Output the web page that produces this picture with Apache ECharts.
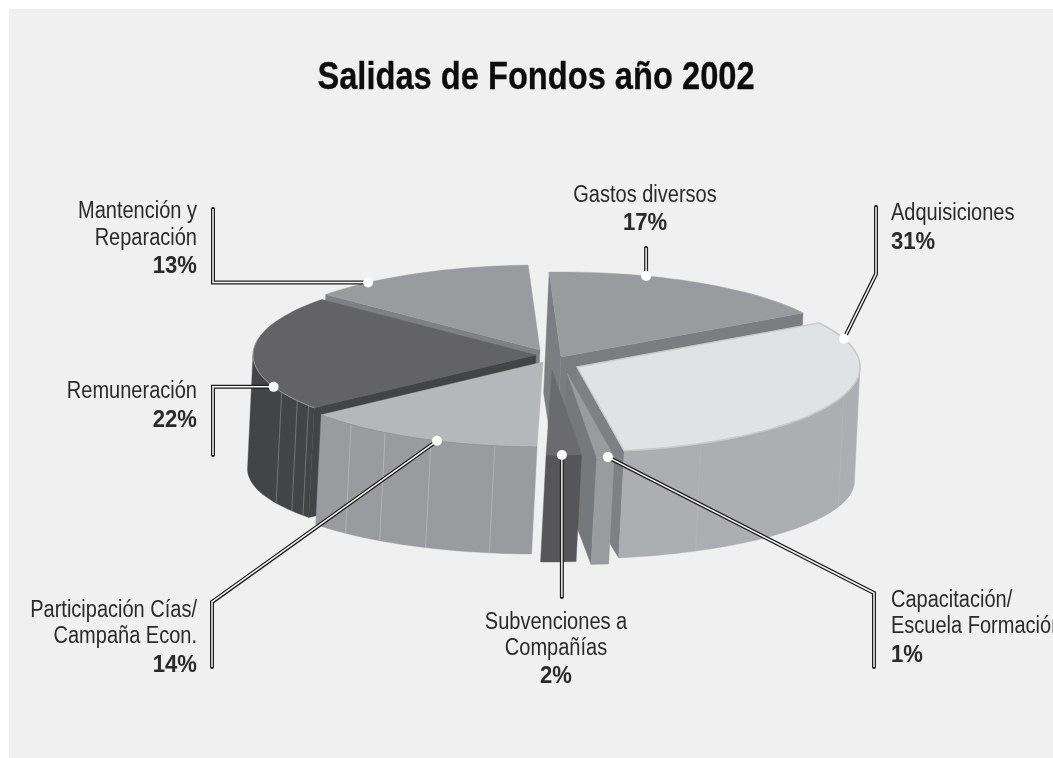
<!DOCTYPE html>
<html><head><meta charset="utf-8">
<style>html,body{margin:0;padding:0;background:#fff;overflow:hidden}#c{width:1053px;height:758px}</style>
<script src="https://cdn.jsdelivr.net/npm/echarts@6/dist/echarts.min.js"></script>
</head><body><div id="c"></div>
<script>
// ---- data ----
const categories = ['Gastos diversos','Adquisiciones','Capacitación/ Escuela Formación','Subvenciones a Compañías','Participación Cías/ Campaña Econ.','Remuneración','Mantención y Reparación'];
const values = [17,31,1,2,14,22,13];
const titleText = 'Salidas de Fondos año 2002';
// ---- look ----
const labelLines = [['Gastos diversos'],['Adquisiciones'],['Capacitación/','Escuela Formación'],['Subvenciones a','Compañías'],['Participación Cías/','Campaña Econ.'],['Remuneración'],['Mantención y','Reparación']];
const startAngle = -2.4;
const RX = 283, RY = 85, DEPTH = 114, RY_B = 78, LEAN = -5.5;
const apex = [[561,357],[577,367],[567,373],[552,370],[543,362],[536,355],[540,350]];
const topCol = ['#9a9b9e','#e1e2e4','#9a9b9e','#6b6b6d','#b6b7ba','#636365','#9a9b9e'];
const wallCol = ['#808185','#adaeb1','#9a9b9e','#565658','#9a9b9e','#434446','#7f8083'];
const radCol = ['#7c7d81','#7f8084','#77787b','#565658','#9a9b9e','#434446','#7f8083'];
const edgeCol = ['#a8a9ac','#c8c9cb','#a8a9ac','#6b6b6d','#8f9093','#aaaaac','#a8a9ac'];
const drawOrder = [6,0,5,1,4,2,3];
const facets = {1:[109.5,154],4:[189.8,203.3,213.9,222.7],5:[233.5,237.5,244]};
const facetCol = {1:'#b3b4b7',4:'#b4b5b8',5:'#77787a'};
const anchorAngle = [17.5,70.6,171.7,178,202,248,322.6];
const leaderPath = [[[null,248]],[[876,207],[876,274]],[[874,667],[874,593]],[[null,597]],[[212,667],[212,602]],[[213,455],[213,null]],[[213,209],[213,null]]];
const labelPos = [
 {x:645,y:182,align:'center',lh:27,pct:28},{x:891,y:200,align:'left',lh:27,pct:29},{x:891,y:587,align:'left',lh:26.5,pct:29},
 {x:556,y:609,align:'center',lh:26.5,pct:28},{x:197,y:597,align:'right',lh:26.5,pct:29},{x:197,y:378,align:'right',lh:27,pct:29},{x:197,y:198,align:'right',lh:27,pct:28}];
const FONT = '"Liberation Sans",sans-serif';

const total = values.reduce((a,b)=>a+b,0);
const spans = []; let acc = startAngle;
values.forEach(v=>{const s=v/total*360; spans.push([acc,acc+s]); acc+=s;});
const R = Math.PI/180;
const topPt = (i,t)=>[apex[i][0]+RX*Math.sin(t*R), apex[i][1]-RY*Math.cos(t*R)];
const botPt = (i,t)=>[apex[i][0]+LEAN+RX*Math.sin(t*R), apex[i][1]+DEPTH-RY_B*Math.cos(t*R)];
const botApex = i=>[apex[i][0]+LEAN,apex[i][1]+DEPTH];
function arc(fn,i,a,b){const n=Math.max(2,Math.ceil(Math.abs(b-a)/2));const o=[];for(let k=0;k<=n;k++)o.push(fn(i,a+(b-a)*k/n));return o;}
function wallVisible(i,t,mid){
  const p=topPt(i,t),m=topPt(i,mid),A=apex[i];
  const dx=p[0]-A[0],dy=p[1]-A[1],mx=m[0]-A[0],my=m[1]-A[1];
  if(Math.abs(dx)<8 && dy>0) return false;
  return my < dy/dx*mx;
}
function poly(points,fill){return {type:'polygon',shape:{points},style:{fill,stroke:fill,lineWidth:0.4}};}
function renderSlice(params){
  const i=drawOrder[params.dataIndex];
  const [a,b]=spans[i],mid=(a+b)/2,ch=[];
  [a,b].forEach(t=>{
    if(wallVisible(i,t,mid)) ch.push(poly([apex[i],topPt(i,t),botPt(i,t),botApex(i)],radCol[i]));
  });
  const lo=Math.max(a,90),hi=Math.min(b,270);
  if(hi>lo){
    ch.push(poly(arc(topPt,i,lo,hi).concat(arc(botPt,i,hi,lo)),wallCol[i]));
    (facets[i]||[]).forEach(t=>{
      const p=topPt(i,t),q=botPt(i,t);
      ch.push({type:'line',shape:{x1:p[0],y1:p[1],x2:q[0],y2:q[1]},style:{stroke:facetCol[i],lineWidth:0.9}});
    });
  }
  ch.push({type:'polygon',shape:{points:[apex[i]].concat(arc(topPt,i,a,b))},style:{fill:topCol[i],stroke:topCol[i],lineWidth:0.4}});
  const e1=Math.max(a,40),e2=Math.min(b,280);
  if(e2>e1) ch.push({type:'polyline',shape:{points:arc(topPt,i,e1,e2)},style:{stroke:edgeCol[i],lineWidth:i===1?1.6:0.7,fill:null}});
  if(i===1) ch.push({type:'polyline',shape:{points:[topPt(i,b),apex[i],topPt(i,a)]},style:{stroke:edgeCol[i],lineWidth:1.3,fill:null}});
  return {type:'group',children:ch};
}
function renderLeader(params){
  const i=params.dataIndex, dot=topPt(i,anchorAngle[i]);
  const pts=leaderPath[i].map(p=>[p[0]===null?dot[0]:p[0],p[1]===null?dot[1]:p[1]]).concat([dot]);
  const lines=labelLines[i], pos=labelPos[i];
  return {type:'group',children:[
    {type:'polyline',shape:{points:pts},style:{stroke:'#1f1d1e',lineWidth:4,fill:null,lineCap:'round',lineJoin:'miter'}},
    {type:'polyline',shape:{points:pts},style:{stroke:'#f6f6f6',lineWidth:1.5,fill:null,lineJoin:'miter'}},
    {type:'circle',shape:{cx:dot[0],cy:dot[1],r:5},style:{fill:'#fff'}},
    {type:'text',x:pos.x,y:pos.y,scaleX:0.87,style:{x:0,y:0,text:lines.join('\n'),fill:'#2b2a2b',font:'23px '+FONT,align:pos.align,verticalAlign:'top',lineHeight:pos.lh}},
    {type:'text',x:pos.x,y:pos.y+pos.lh*(lines.length-1)+pos.pct,scaleX:0.92,style:{x:0,y:0,text:values[i]+'%',fill:'#2b2a2b',font:'bold 24px '+FONT,align:pos.align,verticalAlign:'top',lineHeight:pos.lh}}
  ]};
}
const chart=echarts.init(document.getElementById('c'),null,{renderer:'canvas'});
chart.setOption({
  animation:false,
  backgroundColor:'#ffffff',
  graphic:[
    {type:'rect',silent:true,z:-10,shape:{x:9,y:9,width:1044,height:749},style:{fill:'#f0f0f0'}},
    {type:'text',silent:true,z:5,x:536,y:59,scaleX:0.837,style:{x:0,y:0,text:titleText,font:'bold 39px '+FONT,fill:'#0d0d0d',stroke:'#0d0d0d',lineWidth:0.3,align:'center',verticalAlign:'top'}}
  ],
  series:[
    {type:'custom',coordinateSystem:'none',silent:true,z:2,renderItem:renderSlice,data:drawOrder.map(i=>values[i])},
    {type:'custom',coordinateSystem:'none',silent:true,z:3,renderItem:renderLeader,data:values}
  ]
});
</script></body></html>
